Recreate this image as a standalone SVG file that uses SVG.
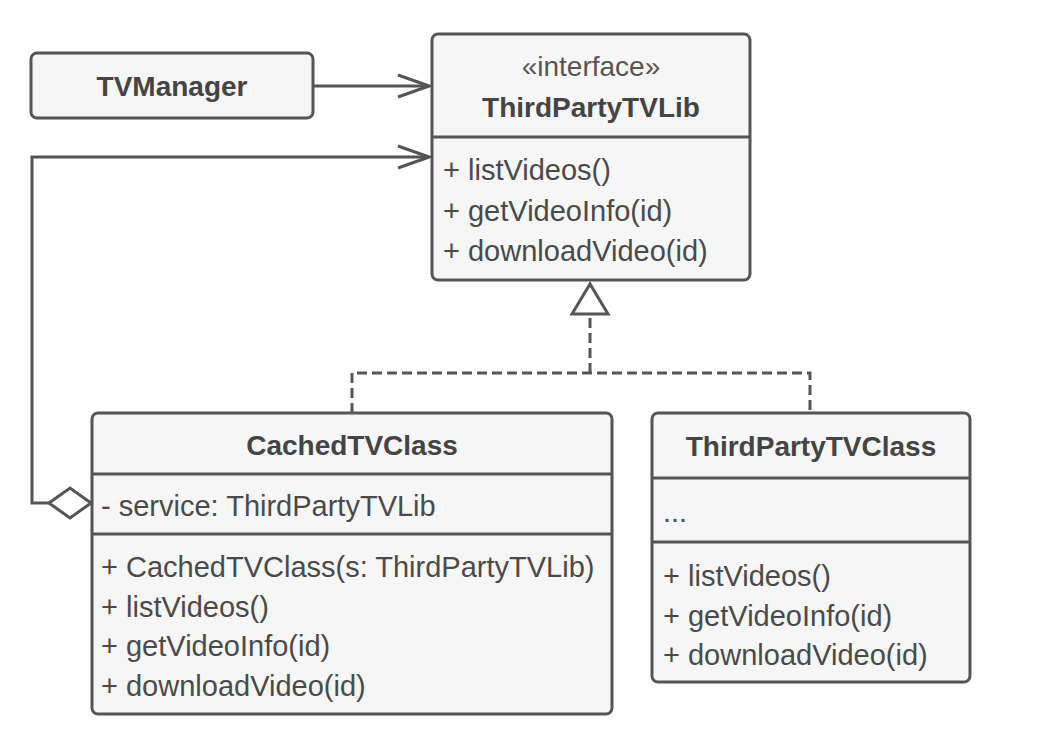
<svg xmlns="http://www.w3.org/2000/svg" width="1048" height="740" viewBox="0 0 1048 740">
<style>
.box{fill:#f6f6f6;stroke:#555;stroke-width:3}
.div{stroke:#555;stroke-width:3}
.t{font-family:"Liberation Sans",Arial,sans-serif;font-size:29px;fill:#4a4a4a}
.b{font-weight:bold;font-size:28px;text-anchor:middle;fill:#444}
.c{text-anchor:middle}
.ln{fill:none;stroke:#555;stroke-width:3}
.dash{stroke-dasharray:10 5}
</style>
<defs>
<marker id="open" markerUnits="userSpaceOnUse" viewBox="-34 -14 36 28" markerWidth="36" markerHeight="28" refX="0" refY="0" orient="auto">
<path d="M-31,-11 L0,0 L-31,11" fill="none" stroke="#555" stroke-width="3"/>
</marker>
<marker id="tri" markerUnits="userSpaceOnUse" viewBox="-2 -21 35 42" markerWidth="35" markerHeight="42" refX="0" refY="0" orient="auto">
<path d="M0,-18 L30,0 L0,18 Z" fill="#fff" stroke="#555" stroke-width="3" stroke-dasharray="none"/>
</marker>
</defs>
<rect width="1048" height="740" fill="#fff"/>
<g id="connectors">
<path class="ln" d="M313,86 L429,86" marker-end="url(#open)"/>
<path class="ln" d="M49,503 L32,503 L32,157 L429,157" marker-end="url(#open)"/>
<polygon points="49,503 70,488 91,503 70,518" fill="#fff" stroke="#555" stroke-width="3"/>
<path class="ln dash" d="M352,413 L352,373 L810,373 L810,413"/>
<path class="ln dash" d="M590,373 L590,314" marker-end="url(#tri)"/>
</g>
<g id="TVManager">
<rect class="box" x="31" y="53" width="282" height="65" rx="6"/>
<text class="t b" x="172" y="96">TVManager</text>
</g>
<g id="ThirdPartyTVLib">
<rect class="box" x="432" y="34" width="318" height="246" rx="6"/>
<line class="div" x1="432" y1="137" x2="750" y2="137"/>
<text class="t c" x="591" y="76" style="fill:#555;font-size:28px">«interface»</text>
<text class="t b" x="591" y="117">ThirdPartyTVLib</text>
<text class="t" x="443" y="180">+ listVideos()</text>
<text class="t" x="443" y="221">+ getVideoInfo(id)</text>
<text class="t" x="443" y="261">+ downloadVideo(id)</text>
</g>
<g id="CachedTVClass">
<rect class="box" x="92" y="413" width="520" height="301" rx="6"/>
<line class="div" x1="92" y1="474" x2="612" y2="474"/>
<line class="div" x1="92" y1="534" x2="612" y2="534"/>
<text class="t b" x="352" y="455">CachedTVClass</text>
<text class="t" x="101" y="516">- service: ThirdPartyTVLib</text>
<text class="t" x="101" y="577">+ CachedTVClass(s: ThirdPartyTVLib)</text>
<text class="t" x="101" y="617">+ listVideos()</text>
<text class="t" x="101" y="656">+ getVideoInfo(id)</text>
<text class="t" x="101" y="696">+ downloadVideo(id)</text>
</g>
<g id="ThirdPartyTVClass">
<rect class="box" x="652" y="413" width="318" height="269" rx="6"/>
<line class="div" x1="652" y1="478" x2="970" y2="478"/>
<line class="div" x1="652" y1="542" x2="970" y2="542"/>
<text class="t b" x="811" y="456">ThirdPartyTVClass</text>
<text class="t" x="663" y="522">...</text>
<text class="t" x="663" y="586">+ listVideos()</text>
<text class="t" x="663" y="626">+ getVideoInfo(id)</text>
<text class="t" x="663" y="665">+ downloadVideo(id)</text>
</g>
</svg>
